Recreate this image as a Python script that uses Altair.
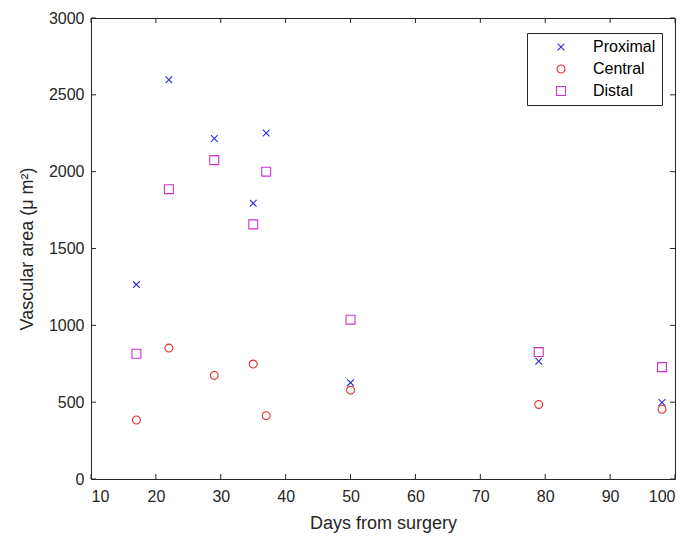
import altair as alt
import pandas as pd

days = [17, 22, 29, 35, 37, 50, 79, 98]
proximal = [1265, 2598, 2216, 1794, 2252, 627, 766, 498]
central = [384, 852, 674, 748, 412, 578, 485, 454]
distal = [815, 1886, 2075, 1657, 2000, 1037, 826, 728]
series = ["Proximal", "Central", "Distal"]
xticks = [10, 20, 30, 40, 50, 60, 70, 80, 90, 100]
yticks = [0, 500, 1000, 1500, 2000, 2500, 3000]

rows = []
for name, vals in zip(series, [proximal, central, distal]):
    for d, v in zip(days, vals):
        rows.append({"day": d, "area": v, "series": name})
df = pd.DataFrame(rows)

W, H = 584, 461
FONT = "Liberation Sans"
AX = "#262626"

xscale = alt.Scale(domain=[10, 100], nice=False, zero=False)
yscale = alt.Scale(domain=[0, 3000], nice=False, zero=False)

xaxis = alt.Axis(values=xticks, ticks=False, domain=False, grid=False, format="d",
                 labelPadding=9, titlePadding=10, title="Days from surgery")
yaxis = alt.Axis(values=yticks, ticks=False, domain=False, grid=False, format="d",
                 labelPadding=7, titlePadding=12, title="Vascular area (μ m²)")

colors = ["#2a2ad8", "#e03030", "#cc33cc"]
shapes = ["M-1,-1L1,1M-1,1L1,-1", "circle", "square"]

points = alt.Chart(df).mark_point(filled=False, strokeWidth=1.1, opacity=1).encode(
    x=alt.X("day:Q", scale=xscale, title="Days from surgery", axis=xaxis),
    y=alt.Y("area:Q", scale=yscale, title="Vascular area (μ m²)", axis=yaxis),
    color=alt.Color("series:N", scale=alt.Scale(domain=series, range=colors),
                    legend=alt.Legend(title=None, orient="none", legendX=436, legendY=15)),
    shape=alt.Shape("series:N", scale=alt.Scale(domain=series, range=shapes),
                    legend=alt.Legend(title=None, orient="none", legendX=436, legendY=15)),
    size=alt.Size("series:N", scale=alt.Scale(domain=series, range=[45, 80, 60]), legend=None),
)

xt = pd.DataFrame({"day": xticks})
yt = pd.DataFrame({"area": yticks})
TL = 5
tick_b = alt.Chart(xt).mark_rule(color=AX, strokeWidth=1).encode(
    x=alt.X("day:Q", scale=xscale, title="Days from surgery", axis=xaxis),
    y=alt.value(H), y2=alt.value(H - TL))
tick_t = alt.Chart(xt).mark_rule(color=AX, strokeWidth=1).encode(
    x=alt.X("day:Q", scale=xscale, title="Days from surgery", axis=xaxis),
    y=alt.value(0), y2=alt.value(TL))
tick_l = alt.Chart(yt).mark_rule(color=AX, strokeWidth=1).encode(
    y=alt.Y("area:Q", scale=yscale, title="Vascular area (μ m²)", axis=yaxis),
    x=alt.value(0), x2=alt.value(TL))
tick_r = alt.Chart(yt).mark_rule(color=AX, strokeWidth=1).encode(
    y=alt.Y("area:Q", scale=yscale, title="Vascular area (μ m²)", axis=yaxis),
    x=alt.value(W), x2=alt.value(W - TL))

chart = alt.layer(points, tick_b, tick_t, tick_l, tick_r).properties(
    width=W, height=H,
    autosize=alt.AutoSizeParams(type="none"),
    padding={"left": 83, "top": 10, "right": 8, "bottom": 57},
).configure_view(
    stroke=AX, strokeWidth=1
).configure_axis(
    labelFont=FONT, titleFont=FONT, labelFontSize=16, titleFontSize=18,
    labelColor=AX, titleColor=AX, titleFontWeight="normal",
).configure_legend(
    labelFont=FONT, labelFontSize=16, labelColor="#000000",
    strokeColor=AX, fillColor="white", padding=6,
    symbolSize=55, symbolStrokeWidth=1.1, labelOffset=24, symbolOffset=20,
    rowPadding=6, cornerRadius=0,
)

chart.save("out.html", embed_options={"renderer": "svg", "actions": False})
